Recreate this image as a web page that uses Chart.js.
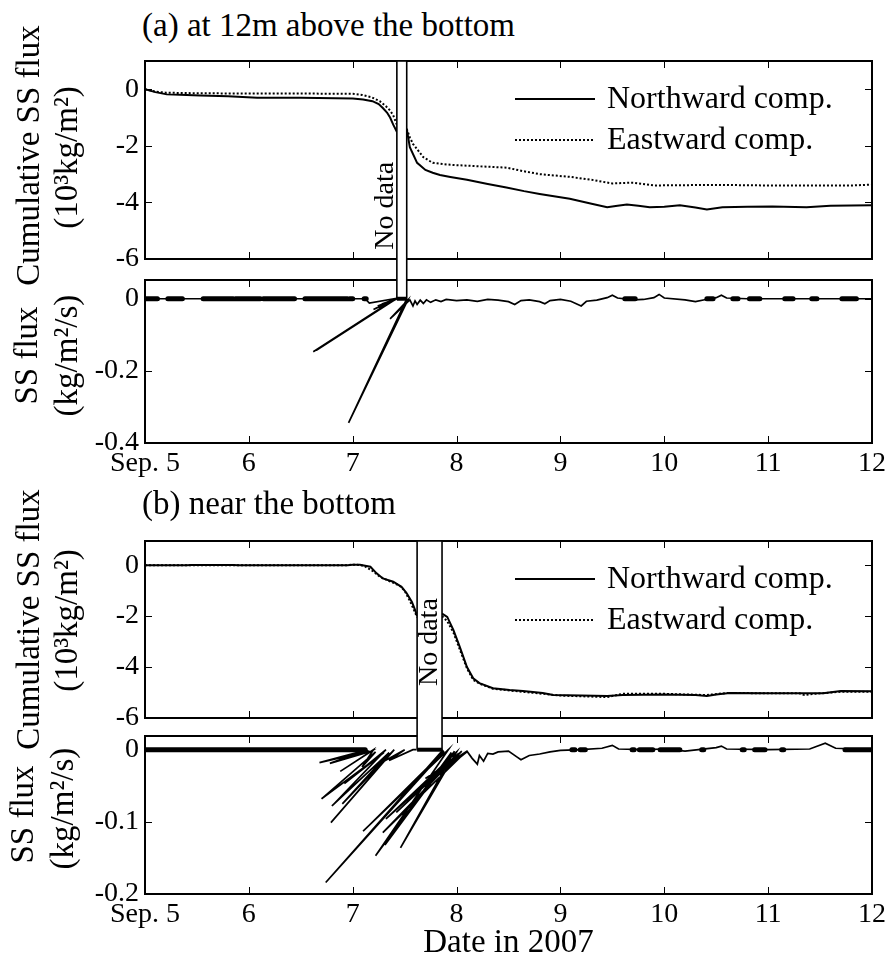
<!DOCTYPE html>
<html><head><meta charset="utf-8">
<script src="https://cdn.jsdelivr.net/npm/chart.js@4.4.1/dist/chart.umd.min.js"></script>
<style>
html,body{margin:0;padding:0;background:#fff;}
#wrap{position:relative;width:888px;height:964px;overflow:hidden;font-family:"Liberation Serif","Times New Roman",Times,serif;color:#000;}
canvas{position:absolute;left:0;}
.ttl{position:absolute;left:142px;font-size:33px;line-height:33px;white-space:nowrap;}
.yt{position:absolute;width:400px;height:33px;line-height:33px;font-size:33px;text-align:center;white-space:nowrap;transform:rotate(-90deg);}
</style></head><body>
<div id="wrap">
<canvas id="c1" width="888" height="225" style="top:45px"></canvas>
<canvas id="c2" width="888" height="220" style="top:270px"></canvas>
<canvas id="c3" width="888" height="240" style="top:490px"></canvas>
<canvas id="c4" width="888" height="234" style="top:730px"></canvas>
<div class="ttl" style="top:9px">(a) at 12m above the bottom</div>
<div class="ttl" style="top:487px">(b) near the bottom</div>
<div class="yt" style="left:-172px;top:139px">Cumulative SS flux</div>
<div class="yt" style="left:-134px;top:141px">(10³kg/m²)</div>
<div class="yt" style="left:-174px;top:339px">SS flux</div>
<div class="yt" style="left:-134px;top:339px">(kg/m²/s)</div>
<div class="yt" style="left:-172px;top:603px">Cumulative SS flux</div>
<div class="yt" style="left:-134px;top:604px">(10³kg/m²)</div>
<div class="yt" style="left:-178px;top:798px">SS flux</div>
<div class="yt" style="left:-138px;top:792px">(kg/m²/s)</div>
</div>
<script>
const SERIF = '"Liberation Serif","Times New Roman",Times,serif';

// ---- axes ----
const xTickVals = [5, 6, 7, 8, 9, 10, 11, 12];
const xTickLabels = ['Sep. 5', '6', '7', '8', '9', '10', '11', '12'];
const cumTicks = [-6, -4, -2, 0];
const fluxTicksA = [-0.4, -0.2, 0];
const fluxTicksB = [-0.2, -0.1, 0];
const legendLabels = ['Northward comp.', 'Eastward comp.'];
const gapLabel = 'No data';
const gapA = [7.425, 7.52];
const gapB = [7.62, 7.86];

// ---- (a) cumulative flux [day, 10^3 kg/m^2] ----
const aNorth = [[5.0,0],[5.1,-0.1],[5.21,-0.18],[5.4,-0.2],[5.53,-0.22],[5.8,-0.25],[6.08,-0.3],[6.5,-0.3],[7.0,-0.33],[7.1,-0.36],[7.19,-0.42],[7.25,-0.52],[7.29,-0.66],[7.33,-0.82],[7.36,-1.0],[7.39,-1.25],[7.425,-1.5],[7.47,null],[7.52,-1.4],[7.55,-2.05],[7.62,-2.6],[7.7,-2.85],[7.77,-2.95],[7.84,-3.03],[7.94,-3.1],[8.1,-3.2],[8.3,-3.35],[8.48,-3.47],[8.65,-3.6],[8.8,-3.7],[9.09,-3.87],[9.3,-4.05],[9.45,-4.17],[9.55,-4.12],[9.64,-4.07],[9.75,-4.12],[9.86,-4.17],[10.0,-4.15],[10.15,-4.1],[10.3,-4.18],[10.41,-4.25],[10.56,-4.17],[10.8,-4.15],[11.04,-4.14],[11.37,-4.17],[11.6,-4.12],[12.0,-4.1]];
const aEast = [[5.0,0],[5.1,-0.08],[5.2,-0.12],[5.5,-0.14],[6.0,-0.15],[6.5,-0.15],[7.0,-0.16],[7.09,-0.2],[7.18,-0.28],[7.26,-0.42],[7.32,-0.6],[7.36,-0.75],[7.39,-0.92],[7.425,-1.25],[7.47,null],[7.52,-1.4],[7.55,-1.7],[7.58,-1.93],[7.68,-2.4],[7.77,-2.6],[7.94,-2.67],[8.2,-2.72],[8.48,-2.77],[8.65,-2.9],[8.8,-3.0],[9.1,-3.1],[9.3,-3.2],[9.5,-3.33],[9.7,-3.3],[9.9,-3.4],[10.5,-3.38],[11.0,-3.4],[11.8,-3.4],[12.0,-3.37]];

// ---- (a) SS flux [day, kg/m^2/s] ----
const aFlux = [[5.0,0],[5.05,-0.002],[5.12,0],[7.12,0],[7.16,-0.012],[7.4,0],[7.2,-0.03],[7.41,-0.002],[7.24,-0.02],[7.42,0],[7.28,-0.015],[7.42,0],[6.62,-0.147],[7.41,0],[6.65,-0.143],[7.42,0],[7.3,-0.02],[7.425,0],[7.47,null],[7.52,0],[6.96,-0.344],[7.53,-0.004],[7.36,-0.056],[7.54,-0.002],[7.38,-0.05],[7.55,-0.003],[7.58,-0.02],[7.6,-0.006],[7.62,-0.016],[7.65,-0.004],[7.68,-0.013],[7.71,-0.003],[7.75,-0.01],[7.8,-0.003],[7.85,-0.008],[7.9,-0.002],[8.0,-0.005],[8.1,-0.003],[8.2,-0.007],[8.3,-0.002],[8.4,-0.004],[8.5,-0.008],[8.56,-0.016],[8.62,-0.005],[8.7,-0.003],[8.8,-0.008],[8.85,-0.014],[8.9,-0.005],[9.0,-0.002],[9.1,-0.007],[9.2,-0.02],[9.25,-0.007],[9.35,-0.004],[9.45,0.003],[9.5,0.01],[9.55,0.002],[9.7,-0.003],[9.8,-0.002],[9.9,0.003],[9.95,0.012],[10.0,0.002],[10.2,-0.003],[10.3,-0.008],[10.4,-0.002],[10.5,0.003],[10.55,0.01],[10.6,0.002],[10.8,0],[12.0,0]];
const aDots = [[5.0,5.12],[5.22,5.36],[5.56,5.85],[5.87,6.11],[6.14,6.44],[6.54,6.95],[6.97,7.0],[7.11,7.13],[9.62,9.72],[10.41,10.47],[10.66,10.71],[10.82,10.92],[11.16,11.24],[11.42,11.47],[11.71,11.85]];

// ---- (b) cumulative flux ----
const bNorth = [[5.0,0],[5.4,0],[5.45,0.01],[5.85,0.01],[5.9,0],[6.95,0],[7.0,0.02],[7.07,0.02],[7.12,-0.02],[7.17,-0.06],[7.23,-0.32],[7.29,-0.52],[7.39,-0.65],[7.47,-0.85],[7.52,-1.1],[7.57,-1.44],[7.6,-1.75],[7.62,-2.0],[7.74,null],[7.86,-1.9],[7.91,-2.03],[7.97,-2.55],[8.03,-3.2],[8.1,-4.0],[8.16,-4.44],[8.22,-4.63],[8.35,-4.83],[8.51,-4.9],[8.64,-4.94],[8.83,-5.02],[8.93,-5.1],[9.2,-5.12],[9.45,-5.14],[9.6,-5.1],[10.0,-5.08],[10.3,-5.1],[10.41,-5.14],[10.5,-5.08],[10.63,-5.02],[11.0,-5.03],[11.53,-5.03],[11.7,-4.94],[12.0,-4.95]];
const bEast = [[5.0,0],[6.95,0],[7.0,0.02],[7.07,0.01],[7.12,-0.05],[7.2,-0.25],[7.26,-0.45],[7.35,-0.62],[7.45,-0.8],[7.5,-1.0],[7.55,-1.4],[7.6,-1.85],[7.62,-2.05],[7.74,null],[7.86,-2.0],[7.91,-2.2],[7.97,-2.65],[8.03,-3.3],[8.1,-4.05],[8.16,-4.5],[8.22,-4.65],[8.35,-4.85],[8.51,-4.92],[8.83,-5.05],[9.0,-5.12],[9.45,-5.18],[9.6,-5.05],[10.0,-5.05],[10.4,-5.1],[10.6,-5.02],[11.3,-5.03],[11.35,-5.1],[11.45,-5.05],[11.7,-4.97],[12.0,-4.97]];

// ---- (b) SS flux ----
const bFlux = [[5.0,0],[7.12,0],[7.15,-0.002],[6.68,-0.018],[7.14,0],[6.78,-0.019],[7.18,-0.002],[6.88,-0.03],[7.2,0],[7.09,-0.024],[7.22,-0.003],[6.7,-0.068],[7.3,-0.004],[6.92,-0.047],[7.32,0],[6.8,-0.078],[7.35,-0.004],[6.9,-0.075],[7.4,0],[6.79,-0.101],[7.38,-0.003],[7.25,-0.02],[7.5,0],[7.35,-0.015],[7.58,0],[7.61,0],[7.74,null],[7.87,0],[6.74,-0.184],[7.88,-0.002],[7.1,-0.113],[7.92,0],[7.22,-0.147],[7.95,-0.004],[7.31,-0.132],[7.98,-0.002],[7.46,-0.136],[8.0,-0.003],[7.32,-0.096],[8.02,-0.005],[7.42,-0.087],[8.05,-0.002],[7.29,-0.115],[8.08,-0.004],[7.6,-0.06],[8.1,-0.003],[7.7,-0.04],[8.1,-0.002],[8.15,-0.012],[8.2,-0.02],[8.22,-0.008],[8.26,-0.016],[8.3,-0.005],[8.35,-0.006],[8.4,-0.003],[8.5,-0.002],[8.58,-0.01],[8.62,-0.014],[8.7,-0.008],[8.8,-0.006],[8.9,-0.003],[9.0,-0.001],[9.2,0],[9.4,0.002],[9.5,0.006],[9.56,0.001],[9.8,0],[10.0,0.001],[10.2,-0.002],[10.5,0.003],[10.55,0.005],[10.6,0.001],[11.0,0],[11.4,0.001],[11.55,0.009],[11.65,0.002],[12.0,0]];
const bDots = [[5.0,7.12],[9.11,9.14],[9.19,9.24],[9.69,9.71],[9.76,9.89],[9.96,10.15],[10.36,10.38],[10.75,10.77],[10.87,10.97],[11.13,11.15],[11.74,12.0]];

function pts(arr){ return arr.map(p => ({x:p[0], y:p[1]})); }
function segs(arr){ const o=[]; arr.forEach(s => { o.push({x:s[0],y:0},{x:s[1],y:0},{x:s[1],y:null}); }); return o; }

function lineDs(arr, dash){ return {data:pts(arr), borderColor:'#000', borderWidth:2, borderDash:dash||[], pointRadius:0, tension:0, fill:false}; }
function fluxDs(arr){ return {data:pts(arr), borderColor:'#000', borderWidth:1.7, pointRadius:0, tension:0, fill:false}; }
function dotDs(arr){ return {data:segs(arr), borderColor:'#000', borderWidth:5, borderCapStyle:'round', pointRadius:0, tension:0, fill:false}; }

function panelPlugin(cfg){
  return {
    id:'panel',
    afterDatasetsDraw(chart){
      const {ctx, chartArea:a, scales:{x, y}} = chart;
      ctx.save();
      ctx.strokeStyle = '#000'; ctx.fillStyle = '#000';
      ctx.lineWidth = 1; ctx.beginPath();
      xTickVals.forEach(v => { const px = Math.round(x.getPixelForValue(v)) + 0.5;
        ctx.moveTo(px, a.top); ctx.lineTo(px, a.top + 7); ctx.moveTo(px, a.bottom); ctx.lineTo(px, a.bottom - 7); });
      cfg.yTicks.forEach(v => { const py = Math.round(y.getPixelForValue(v)) + 0.5;
        ctx.moveTo(a.left, py); ctx.lineTo(a.left + 7, py); ctx.moveTo(a.right, py); ctx.lineTo(a.right - 7, py); });
      ctx.stroke();
      ctx.lineWidth = 2;
      ctx.strokeRect(a.left, a.top, a.right - a.left, a.bottom - a.top);
      // no-data box
      const x0 = x.getPixelForValue(cfg.gap[0]), x1 = x.getPixelForValue(cfg.gap[1]);
      const y0 = cfg.gapTop ? a.top : -5;
      const y1 = cfg.gapZero ? y.getPixelForValue(0) : chart.height + 5;
      ctx.fillStyle = '#fff'; ctx.fillRect(x0, y0, x1 - x0, y1 - y0);
      ctx.lineWidth = 1.6; ctx.strokeRect(x0, y0, x1 - x0, y1 - y0);
      if (cfg.gapZero) { ctx.lineWidth = 4; ctx.beginPath(); ctx.moveTo(x0, y1); ctx.lineTo(x1, y1); ctx.stroke(); }
      ctx.fillStyle = '#000';
      if (cfg.gapText) {
        ctx.save();
        ctx.translate(x.getPixelForValue(cfg.gapText[0]), y.getPixelForValue(cfg.gapText[1]));
        ctx.rotate(-Math.PI / 2);
        ctx.font = '28px ' + SERIF; ctx.textAlign = 'center'; ctx.textBaseline = 'middle';
        ctx.fillText(gapLabel, 0, 0);
        ctx.restore();
      }
      if (cfg.legend) {
        ctx.font = '32px ' + SERIF; ctx.textAlign = 'left'; ctx.textBaseline = 'alphabetic';
        legendLabels.forEach((lab, i) => {
          const by = a.top + 47 + i * 41, ly = by - 9;
          ctx.lineWidth = 2; ctx.setLineDash(i ? [2, 2] : []);
          ctx.beginPath(); ctx.moveTo(a.right - 357, ly); ctx.lineTo(a.right - 277, ly); ctx.stroke();
          ctx.setLineDash([]);
          ctx.fillText(lab, a.right - 265, by);
        });
      }
      ctx.restore();
    }
  };
}

function makeChart(id, cfg){
  return new Chart(document.getElementById(id), {
    type:'line',
    data:{datasets:cfg.datasets},
    options:{
      responsive:false, animation:false, events:[],
      layout:{padding:cfg.padding},
      plugins:{legend:{display:false}, tooltip:{enabled:false}},
      scales:{
        x:{type:'linear', min:5, max:12, display:cfg.showX,
           afterBuildTicks:s => { s.ticks = xTickVals.map(v => ({value:v})); },
           afterFit:s => { s.height = cfg.xHeight || 0; s.paddingLeft = 0; s.paddingRight = 0; },
           grid:{display:false, drawTicks:false}, border:{display:false},
           ticks:{color:'#000', font:{family:SERIF, size:28}, padding:4, maxRotation:0, minRotation:0, autoSkip:false,
                  callback:(v, i) => xTickLabels[i]},
           title: cfg.xTitle ? {display:true, text:cfg.xTitle, color:'#000', font:{family:SERIF, size:33, lineHeight:1.2}, padding:{top:0, bottom:1}} : {display:false}},
        y:{type:'linear', min:cfg.yMin, max:cfg.yMax,
           afterBuildTicks:s => { s.ticks = cfg.yTicks.map(v => ({value:v})); },
           afterFit:s => { s.width = 145; s.paddingTop = 0; s.paddingBottom = 0; },
           grid:{display:false, drawTicks:false}, border:{display:false},
           ticks:{color:'#000', font:{family:SERIF, size:28}, padding:6, callback:v => String(v)}}
      }
    },
    plugins:[panelPlugin(cfg)]
  });
}

makeChart('c1', {datasets:[lineDs(aNorth), lineDs(aEast, [2, 2])], padding:{top:16, bottom:11, left:0, right:16},
  showX:false, yMin:-6, yMax:1, yTicks:cumTicks, gap:gapA, gapTop:true, gapZero:false, gapText:[7.32, -4.12], legend:true});
makeChart('c2', {datasets:[fluxDs(aFlux), dotDs(aDots)], padding:{top:10, bottom:0, left:0, right:16},
  showX:true, xHeight:47, yMin:-0.4, yMax:0.052, yTicks:fluxTicksA, gap:gapA, gapTop:false, gapZero:true});
makeChart('c3', {datasets:[lineDs(bNorth), lineDs(bEast, [2, 2])], padding:{top:51, bottom:12, left:0, right:16},
  showX:false, yMin:-6, yMax:0.95, yTicks:cumTicks, gap:gapB, gapTop:true, gapZero:false, gapText:[7.74, -3.02], legend:true});
makeChart('c4', {datasets:[fluxDs(bFlux), dotDs(bDots)], padding:{top:6, bottom:0, left:0, right:16},
  showX:true, xHeight:70, xTitle:'Date in 2007', yMin:-0.2, yMax:0.019, yTicks:fluxTicksB, gap:gapB, gapTop:false, gapZero:true});
</script>
</body></html>
